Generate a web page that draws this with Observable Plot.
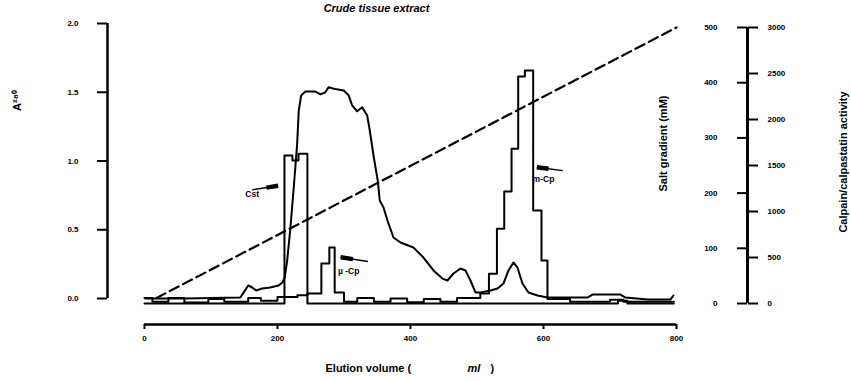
<!DOCTYPE html>
<html><head><meta charset="utf-8">
<script src="https://cdn.jsdelivr.net/npm/d3@7"></script>
<script src="https://cdn.jsdelivr.net/npm/@observablehq/plot@0.6"></script>
<style>body{margin:0;background:#fff}</style>
</head><body><div id="chart"></div>
<script>
// ---- data (elution volume in ml) ----
const a280Volume = [1.5,60,120,144,152,156,162,168,177,189,201.5,207.5,211,214.6,219.5,224.5,229.6,232,235.6,242,257,264.7,272,277,284.7,299.7,307.2,312.3,319.8,327.4,334.9,338.8,344.8,350.8,353.8,359.4,365.4,374.4,385,404.5,419.5,434.6,448,455.6,464.7,475.2,482.7,490.2,497.7,505.3,520.3,530.8,539.8,547.4,554.9,560.9,568.4,577.4,591,606,666,673.7,715.8,723.3,756.4,791,795.5];
const a280Absorbance = [0,0,0.005,0.007,0.065,0.095,0.08,0.058,0.073,0.08,0.095,0.116,0.155,0.276,0.518,0.809,1.125,1.367,1.476,1.505,1.505,1.484,1.5,1.537,1.525,1.513,1.476,1.404,1.362,1.391,1.331,1.222,1.028,0.858,0.713,0.662,0.567,0.444,0.407,0.371,0.298,0.204,0.145,0.131,0.182,0.218,0.204,0.131,0.044,0.044,0.058,0.073,0.109,0.204,0.262,0.225,0.109,0.044,0.022,0.007,0.007,0.029,0.029,0.007,-0.007,-0.007,0.022];

const calpainVolume =   [0,12,36,60,96,120,156,175,200,230,245,266,278,286,300,320,345,370,395,420,445,470,480,505,518,530,541,552,562,572,584.5,597,606,640,700,720,796];
const calpainActivity = [60,20,60,10,50,20,60,30,70,90,110,435,609,120,20,60,20,55,15,50,20,60,60,110,323,812,1217,1682,2467,2533,1011,467,50,20,40,20,20];

const calpastatinVolume =   [0,210.5,222.5,231.6,245,712,726,796];
const calpastatinActivity = [0,1609,1554,1627,0,30,0,0];

const saltVolume = [18, 800];
const saltConc = [10, 500];

const xTicks = [0,200,400,600,800];
const aTicks = [0,0.5,1.0,1.5,2.0];
const saltTicks = [0,100,200,300,400,500];
const activityTicks = [0,500,1000,1500,2000,2500,3000];

const annotations = [
  {label:"Cst",   tx:162, ty:0.76,  anchor:"end",   x1:162, y1:0.79, x2:201, y2:0.82},
  {label:"\u00b5 -Cp", tx:307, ty:0.2, anchor:"start", x1:336, y1:0.27, x2:295, y2:0.30},
  {label:"m-Cp",  tx:600, ty:0.87, anchor:"start", x1:629, y1:0.93, x2:590, y2:0.955}
];

// ---- secondary axes mapped onto the A280 scale ----
const toA_s = s => (s*0.552 - 5)/137.5;
const fromA_s = a => (a*137.5 + 5)/0.552;
const toA_c = c => (c*0.092 - 5)/137.5;
const fromA_c = a => (a*137.5 + 5)/0.092;

const a280 = a280Volume.map((v,i)=>({v, a:a280Absorbance[i]}));
const calpain = calpainVolume.map((v,i)=>({v, c:calpainActivity[i]}));
const calpastatin = calpastatinVolume.map((v,i)=>({v, c:calpastatinActivity[i]}));
const salt = saltVolume.map((v,i)=>({v, s:saltConc[i]}));
// thick "blob" part of each annotation arrow, near its tip
const blobs = annotations.map(d => ({x1: d.x1 + (d.x2-d.x1)*0.55, y1: d.y1 + (d.y2-d.y1)*0.55, x2: d.x2, y2: d.y2}));

const XL = -55.6, XR = 906.8, YB = -0.189, YT = 2.0;
const font = "Arial, 'Liberation Sans', Helvetica, sans-serif";
const lbl = {frameAnchor: "top-left", textAnchor: "middle", lineAnchor: "middle", fontSize: 11, fontWeight: "bold"};

const plot = Plot.plot({
  width: 851, height: 381,
  marginLeft: 107, marginRight: 104, marginTop: 23, marginBottom: 57,
  x: {domain: [XL, XR]},
  y: {domain: [YB, YT]},
  style: {fontFamily: font, fontSize: "8px", fontWeight: "bold", background: "white", color: "black", overflow: "visible"},
  marks: [
    // axis lines
    Plot.ruleX([XL], {y1: 0, y2: 2, strokeWidth: 2.5}),
    Plot.ruleY([YB], {x1: 0, x2: 800, strokeWidth: 2.5}),
    Plot.ruleX([XR], {y1: toA_c(0), y2: toA_c(3000), strokeWidth: 3}),
    Plot.axisY(aTicks, {anchor: "left", tickSize: 10, tickPadding: 19, strokeWidth: 2, tickFormat: d3.format(".1f"), label: null, fontSize: 8, fontWeight: "bold"}),
    Plot.axisX(xTicks, {anchor: "bottom", tickSize: 5, tickPadding: 6, strokeWidth: 2, tickFormat: d => String(d), label: null, fontSize: 8, fontWeight: "bold"}),
    Plot.axisY(saltTicks.map(toA_s), {anchor: "left", dx: 640, tickSize: 10, tickPadding: 20, strokeWidth: 2, tickFormat: a => String(Math.round(fromA_s(a))), label: null, fontSize: 8, fontWeight: "bold"}),
    Plot.axisY(activityTicks.map(toA_c), {anchor: "right", tickSize: 10, tickPadding: 10, strokeWidth: 2, tickFormat: a => String(Math.round(fromA_c(a))), label: null, fontSize: 8, fontWeight: "bold"}),
    // data
    Plot.line(salt, {x: "v", y: d => toA_s(d.s), strokeWidth: 2.2, strokeDasharray: "10,5"}),
    Plot.line(calpastatin, {x: "v", y: d => toA_c(d.c), curve: "step-after", strokeWidth: 2}),
    Plot.line(calpain, {x: "v", y: d => toA_c(d.c), curve: "step-after", strokeWidth: 2}),
    Plot.line(a280, {x: "v", y: "a", strokeWidth: 2}),
    // annotations
    Plot.link(annotations, {x1: "x1", y1: "y1", x2: "x2", y2: "y2", strokeWidth: 1.5}),
    Plot.link(blobs, {x1: "x1", y1: "y1", x2: "x2", y2: "y2", strokeWidth: 4.5}),
    Plot.text(annotations, {x: "tx", y: "ty", text: "label", textAnchor: d => d.anchor, fontSize: 8.5, fontWeight: "bold"}),
    // titles
    Plot.text(["Crude tissue extract"], {...lbl, dx: 269, dy: -15.5, fontStyle: "italic"}),
    Plot.text(["A\u00b2\u2078\u2070"], {...lbl, dx: -90, dy: 77, rotate: -90}),
    Plot.text(["Salt gradient (mM)"], {...lbl, dx: 556, dy: 120, rotate: -90}),
    Plot.text(["Calpain/calpastatin activity"], {...lbl, dx: 736, dy: 138.5, rotate: -90}),
    Plot.text(["Elution volume ("], {...lbl, dx: 218, dy: 345, textAnchor: "start"}),
    Plot.text(["ml"], {...lbl, dx: 360, dy: 345, textAnchor: "start", fontStyle: "italic"}),
    Plot.text([")"], {...lbl, dx: 383, dy: 345, textAnchor: "start"})
  ]
});
document.getElementById("chart").appendChild(plot);
</script>
</body></html>
